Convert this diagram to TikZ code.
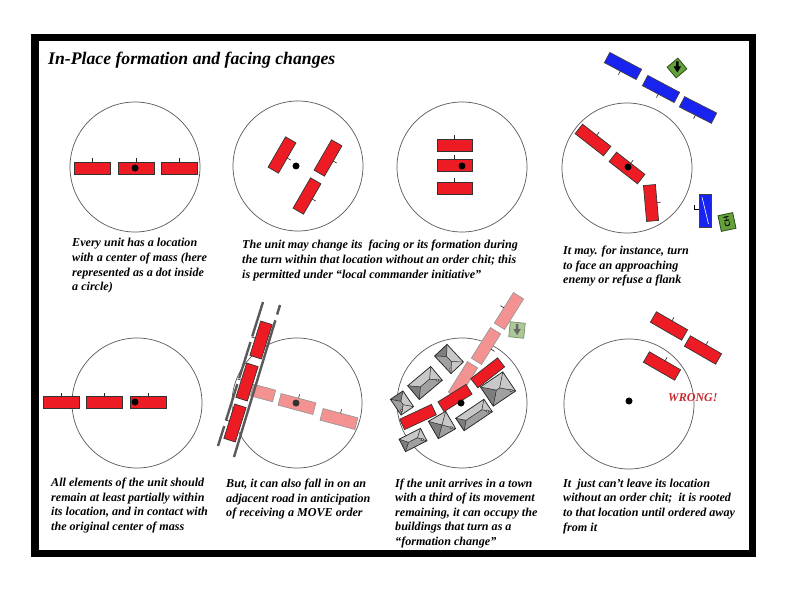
\documentclass[tikz,border=0pt]{standalone}
\usepackage{fontspec}
\setmainfont{Liberation Serif}
\definecolor{unitred}{RGB}{237,28,36}
\definecolor{unitpink}{RGB}{244,146,146}
\definecolor{unitblue}{RGB}{25,35,240}
\definecolor{cntgreen}{RGB}{100,160,60}
\definecolor{cntdark}{RGB}{40,80,20}
\definecolor{fadegreen}{RGB}{172,200,152}
\definecolor{fadedark}{RGB}{125,150,110}
\definecolor{houselight}{RGB}{200,200,200}
\definecolor{housemid}{RGB}{160,160,160}
\definecolor{housedark}{RGB}{125,125,125}
\definecolor{wrongred}{RGB}{200,40,45}
\tikzset{
  loc/.style={circle, draw=black!65, line width=0.7pt, minimum size=130pt, inner sep=0pt},
  com/.style={circle, fill=black, minimum size=7pt, inner sep=0pt},
  redu/.style={fill=unitred, draw=black!80, line width=0.7pt},
  pinku/.style={fill=unitpink, draw=black!40, line width=0.7pt},
  blueu/.style={fill=unitblue, draw=black!75, line width=0.7pt},
  tickline/.style={draw=black!85, line width=0.6pt},
  pics/unit/.style n args={3}{code={
    \path[#1] (-#2,-#3) rectangle (#2,#3);
    \draw[tickline] (0,{-#3}) -- (0,{-#3-4});
  }},
  pics/unitnt/.style n args={3}{code={
    \path[#1] (-#2,-#3) rectangle (#2,#3);
  }},
  houseline/.style={draw=black!85, line width=0.75pt},
  pics/house/.style n args={2}{code={
    \path[fill=houselight] (-#1,-#2) rectangle (#1,#2);
    \path[fill=housemid] (-#1,#2) -- (#1,#2) -- ({#1-#2},0) -- ({-#1+#2},0) -- cycle;
    \path[fill=housedark] (-#1,-#2) -- ({-#1+#2},0) -- (-#1,#2) -- cycle;
    \draw[houseline] (-#1,-#2) rectangle (#1,#2);
    \draw[houseline, line width=0.5pt] (-#1,-#2) -- ({-#1+#2},0) -- (-#1,#2)
                     (#1,-#2) -- ({#1-#2},0) -- (#1,#2)
                     ({-#1+#2},0) -- ({#1-#2},0);
    \draw[houseline, line width=0.4pt, fill=houselight] ({#1-3.5},{#2-3}) circle (1.4);
  }},
  cntr/.style={fill=cntgreen, draw=cntdark, line width=0.8pt},
  fcntr/.style={fill=fadegreen, draw=fadedark, line width=0.8pt},
  road/.style={draw=black!65, line width=2.4pt},
  capt/.style={anchor=north west, align=left, inner sep=0pt,
    font=\bfseries\itshape\fontsize{12.1}{14.65}\selectfont},
}
\begin{document}
\begin{tikzpicture}[x=1pt,y=-1pt]
\useasboundingbox (0,0) rectangle (800,596);
\fill[white] (0,0) rectangle (800,596);
\draw[line width=7.5pt] (34.75,37.75) rectangle (752.25,553.25);

\node[anchor=base west, inner sep=0pt, font=\bfseries\itshape\fontsize{17.7}{20}\selectfont]
  (title) at (48,65) {In-Place formation and facing changes};

% ---------- panel 1
\node[loc] (c1) at (135,167) {};
\pic at (92,168) {unit={redu}{18}{6}};
\pic at (136,168) {unit={redu}{18}{6}};
\pic at (179,168) {unit={redu}{18}{6}};
\node[com] (m1) at (135,168) {};
\node[capt] (t1) at (72,238.3) {Every unit has a location\\with a center of mass (here\\represented as a dot inside\\a circle)};

% ---------- panel 2
\node[loc] (c2) at (298,166) {};
\pic[rotate=-120] at (282,155) {unit={redu}{17.5}{6}};
\pic[rotate=-120] at (328,158) {unit={redu}{17.5}{6}};
\pic[rotate=-120] at (307,196) {unit={redu}{17.5}{6}};
\node[com] (m2) at (296,166) {};
\node[capt] (t2) at (242,240) {The unit may change its\ \ facing or its formation during\\the turn within that location without an order chit; this\\is permitted under “local commander initiative”};

% ---------- panel 3
\node[loc] (c3) at (462,167) {};
\pic at (454.5,145.5) {unit={redu}{17.5}{6}};
\pic at (454.5,165.5) {unit={redu}{17.5}{6}};
\pic at (454.5,188) {unit={redu}{17.5}{6}};
\node[com] (m3) at (462,166) {};
\node[capt] (t3) at (563,245.7) {It may. for instance, turn\\to face an approaching\\enemy or refuse a flank};

% ---------- panel 4
\node[loc] (c4) at (627,168) {};
\pic[rotate=-38] at (593,140) {unit={redu}{18}{6}};
\pic[rotate=-38] at (627,168) {unit={redu}{18}{6}};
\pic[rotate=-85] at (651,203) {unit={redu}{18}{6}};
\node[com] (m4) at (628,167) {};
\pic[rotate=152] at (623,66) {unit={blueu}{18}{5.8}};
\pic[rotate=152] at (661,89) {unit={blueu}{18}{5.8}};
\pic[rotate=153] at (698,110) {unit={blueu}{18}{5.8}};
\pic[rotate=90] at (705,211) {unitnt={blueu}{16.5}{6}};
\draw[white, line width=0.6pt] (702,197) -- (708.5,224);
\draw[line width=0.8pt] (698.5,209.5) -- (694.5,209.5) -- (694.5,205.5);
\begin{scope}[shift={(677,68)}, rotate=-50]
  \path[cntr] (-7,-7) rectangle (7,7);
\end{scope}
\fill[black] (676,61.5) -- (678.6,61.5) -- (678.6,66.5) -- (681,66.5) -- (677.3,72.5) -- (673.6,66.5) -- (676,66.5) -- cycle;
\begin{scope}[shift={(727,222)}, rotate=12]
  \path[cntr] (-7.5,-8) rectangle (7.5,8);
\end{scope}
\node[rotate=102, inner sep=0pt, font=\sffamily\bfseries\fontsize{7.5}{8}\selectfont] (ch) at (727,222) {CH};

% ---------- panel 5
\node[loc] (c5) at (137,403) {};
\pic at (61,402.5) {unit={redu}{18}{6}};
\pic at (104.5,402.5) {unit={redu}{18}{6}};
\pic at (148.5,402.5) {unit={redu}{18}{6}};
\node[com] (m5) at (135,402) {};
\node[capt] (t5) at (51,477.7) {All elements of the unit should\\remain at least partially within\\its location, and in contact with\\the original center of mass};

% ---------- panel 6
\node[loc] (c6) at (297,403) {};
\pic[rotate=-15] at (263,393) {unitnt={pinku}{11.5}{6}};
\pic[rotate=-15] at (297,404) {unit={pinku}{18}{6}};
\pic[rotate=-15] at (339,419) {unit={pinku}{18}{6}};
\node[com, fill=black!80] (m6) at (296,403) {};
\coordinate (rl1) at (263,302);
\coordinate (rl2) at (218,446);
\coordinate (rr1) at (280,305);
\coordinate (rr2) at (234,457);
\draw[road, dash pattern=on 36pt off 6pt on 38pt off 6pt on 38pt off 6pt on 80pt off 2pt] (rl1) -- (rl2);
\draw[road, dash pattern=on 10pt off 6pt on 200pt off 2pt] (rr1) -- (rr2);
\pic[rotate=72.5] at (261,340) {unit={redu}{18}{6}};
\pic[rotate=72.5] at (247,382) {unit={redu}{18}{6}};
\pic[rotate=72.5] at (235,423) {unit={redu}{18}{6}};
\node[capt] (t6) at (226,478.7) {But, it can also fall in on an\\adjacent road in anticipation\\of receiving a MOVE order};

% ---------- panel 7
\node[loc] (c7) at (462,403) {};
\pic[rotate=58] at (509,311) {unit={pinku}{18}{6}};
\pic[rotate=238] at (486,346) {unit={pinku}{18}{6}};
\pic[rotate=58] at (463,380) {unitnt={pinku}{18}{6}};
\begin{scope}[shift={(517,330)}, rotate=-6]
  \path[fcntr] (-7.5,-7.5) rectangle (7.5,7.5);
\end{scope}
\fill[black!60] (515.8,324) -- (518.4,324) -- (518.4,329) -- (520.8,329) -- (517.1,335) -- (513.4,329) -- (515.8,329) -- cycle;
\pic[rotate=-47] at (449,359) {house={12}{8.5}};
\pic[rotate=40] at (425,383) {house={15}{9}};
\pic[rotate=-56] at (402,403) {house={9.5}{7.5}};
\pic[rotate=34] at (498,389) {house={13.5}{11.5}};
\pic[rotate=34] at (474,415) {house={17}{7.5}};
\pic[rotate=30] at (442,425) {house={10}{10}};
\pic[rotate=27] at (413,440) {house={12}{7}};
\pic[rotate=38] at (487.7,372.8) {unitnt={redu}{17}{5.75}};
\pic[rotate=32] at (455,398) {unitnt={redu}{16.5}{5.75}};
\pic[rotate=25] at (418,417) {unitnt={redu}{17.5}{5.75}};
\node[com] (m7) at (461,403) {};
\node[capt] (t7) at (395,478.3) {If the unit arrives in a town\\with a third of its movement\\remaining, it can occupy the\\buildings that turn as a\\“formation change”};

% ---------- panel 8
\node[loc] (c8) at (629,404) {};
\pic[rotate=-30] at (669,326) {unit={redu}{18}{6}};
\pic[rotate=-30] at (703,350) {unit={redu}{18}{6}};
\pic[rotate=-30] at (662,366) {unit={redu}{18}{6}};
\node[com] (m8) at (629,401) {};
\node[anchor=base west, inner sep=0pt, text=wrongred, font=\bfseries\itshape\fontsize{12}{14}\selectfont] (wrong) at (668,401) {WRONG!};
\node[capt] (t8) at (563,478.7) {It\ \ just can’t leave its location\\without an order chit;\ \ it is rooted\\to that location until ordered away\\from it};
\end{tikzpicture}
\end{document}
